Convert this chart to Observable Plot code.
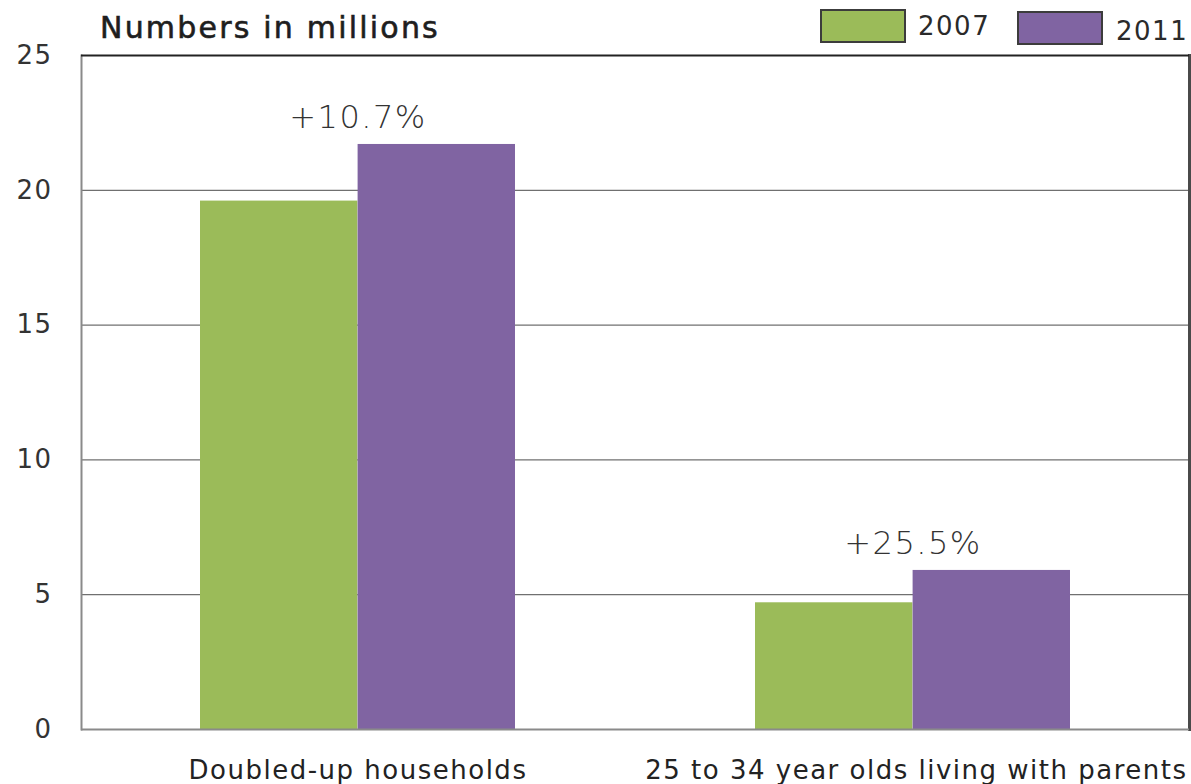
<!DOCTYPE html>
<html>
<head>
<meta charset="utf-8">
<script src="https://cdn.jsdelivr.net/npm/d3@7"></script>
<script src="https://cdn.jsdelivr.net/npm/@observablehq/plot@0.6"></script>
<style>
  html, body { margin: 0; padding: 0; background: #fff; }
  #wrap { position: relative; width: 1191px; height: 784px; font-family: "DejaVu Sans", Verdana, sans-serif; }
  #chart { position: absolute; left: 0; top: 0; }
  #title { position: absolute; left: 100px; top: 13px; font-size: 30px; line-height: 1; font-weight: normal; color: #1e1e1e; letter-spacing: 2.2px; white-space: nowrap; -webkit-text-stroke: 0.6px #1e1e1e; }
  .sw { position: absolute; width: 86px; height: 34px; border: 2px solid #3c3c3c; box-sizing: border-box; }
  .lab { position: absolute; font-size: 26px; line-height: 1; color: #2a2a2a; letter-spacing: 1.5px; }
  #chart svg text { letter-spacing: 1.5px; }
</style>
</head>
<body>
<div id="wrap">
  <div id="chart"></div>
  <div id="title">Numbers in millions</div>
  <div id="legend"></div>
</div>
<script>
const categories = ["Doubled-up households", "25 to 34 year olds living with parents"];
const years = ["2007", "2011"];
const values2007 = [19.6, 4.7];
const values2011 = [21.7, 5.9];
const changes = ["+10.7%", "+25.5%"];
const yTicks = [0, 5, 10, 15, 20, 25];
const colors = ["#9BBB59", "#8064A2"];

const rows = categories.map((c, i) => ({category: c, v2007: values2007[i], v2011: values2011[i], change: changes[i]}));

const chart = Plot.plot({
  width: 1191,
  height: 784,
  marginTop: 55,
  marginBottom: 55,
  marginLeft: 81,
  marginRight: 2,
  style: {fontFamily: "DejaVu Sans, Verdana, sans-serif", background: "transparent", overflow: "visible"},
  x: {domain: categories, paddingInner: 0.432, paddingOuter: 0.214, align: 0.5, axis: null},
  y: {domain: [0, 25], axis: null},
  color: {domain: years, range: colors},
  marks: [
    Plot.gridY(yTicks.slice(1, -1), {stroke: "#707070", strokeOpacity: 1, strokeWidth: 1.3}),
    Plot.barY(rows, {x: "category", y: "v2007", fill: () => years[0], insetRight: 157.6}),
    Plot.barY(rows, {x: "category", y: "v2011", fill: () => years[1], insetLeft: 157.6}),
    Plot.frame({anchor: "left", stroke: "#8a8a8a", strokeWidth: 2}),
    Plot.frame({anchor: "right", stroke: "#4a4a4a", strokeWidth: 3}),
    Plot.ruleY([0], {stroke: "#8a8a8a", strokeWidth: 2}),
    Plot.ruleY([25], {stroke: "#222", strokeWidth: 2}),
    Plot.axisY({ticks: yTicks, tickSize: 0, tickPadding: 29, fontSize: 26, fill: "#333"}),
    Plot.text(rows, {x: "category", y: "v2011", text: "change", lineAnchor: "bottom", dy: -16, fontSize: 32, fontWeight: 200, fill: "#333"}),
    Plot.text(rows.slice(0, 1), {x: "category", text: "category", frameAnchor: "bottom", lineAnchor: "top", dy: 31, fontSize: 26, fill: "#222"}),
    Plot.text(rows.slice(1), {text: "category", frameAnchor: "bottom-right", textAnchor: "end", lineAnchor: "top", dy: 31, dx: -2, fontSize: 26, fill: "#222"})
  ]
});
document.getElementById("chart").appendChild(chart);

// legend built from the chart's own color scale
const color = chart.scale("color");
const legend = document.getElementById("legend");
const swLeft = [820, 1017], swTop = [9, 11], labLeft = [918, 1116], labTop = [13, 18];
years.forEach((y, i) => {
  const sw = document.createElement("div");
  sw.className = "sw";
  sw.style.background = color.apply(y);
  sw.style.left = swLeft[i] + "px";
  sw.style.top = swTop[i] + "px";
  const lab = document.createElement("div");
  lab.className = "lab";
  lab.textContent = y;
  lab.style.left = labLeft[i] + "px";
  lab.style.top = labTop[i] + "px";
  legend.appendChild(sw);
  legend.appendChild(lab);
});
</script>
</body>
</html>
